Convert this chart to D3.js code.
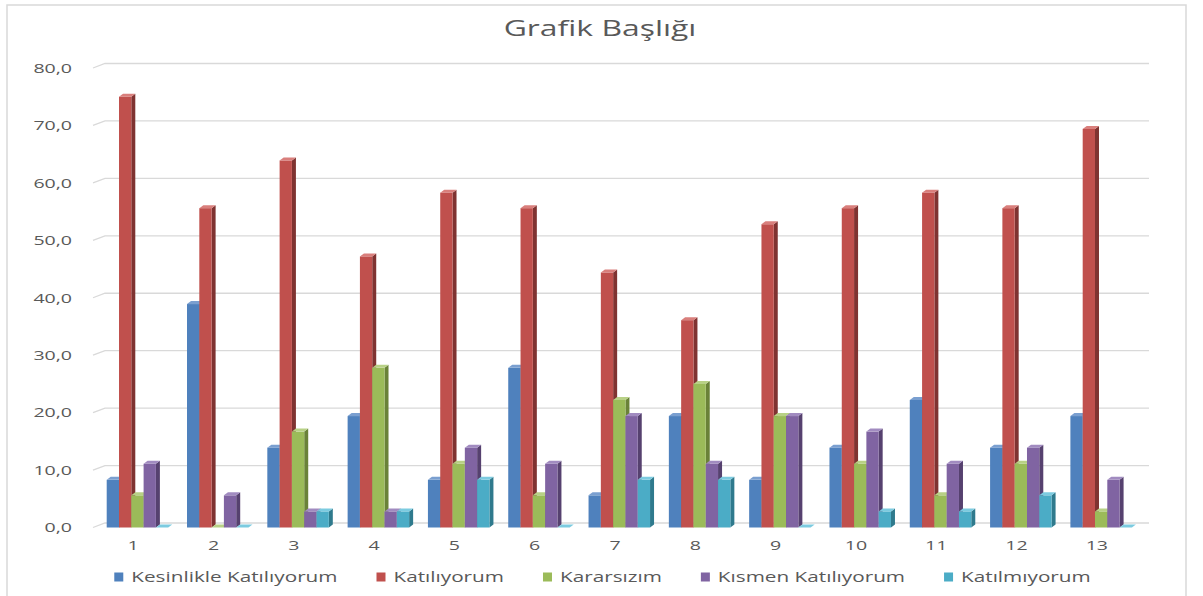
<!DOCTYPE html>
<html><head><meta charset="utf-8">
<script src="https://cdn.jsdelivr.net/npm/d3@7"></script>
<style>
html,body{margin:0;padding:0;background:#fff;}
svg{display:block;font-family:"Open Sans",sans-serif;}
</style></head>
<body>
<svg id="chart" width="1203" height="596"></svg>
<script>
const categories = ["1","2","3","4","5","6","7","8","9","10","11","12","13"];
const seriesNames = ["Kesinlikle Katılıyorum","Katılıyorum","Kararsızım","Kısmen Katılıyorum","Katılmıyorum"];
const kesinlikleKatiliyorum = [8.3,38.9,13.9,19.4,8.3,27.8,5.6,19.4,8.3,13.9,22.2,13.9,19.4];
const katiliyorum = [75.0,55.6,63.9,47.2,58.3,55.6,44.4,36.1,52.8,55.6,58.3,55.6,69.4];
const kararsizim = [5.6,0,16.7,27.8,11.1,5.6,22.2,25.0,19.4,11.1,5.6,11.1,2.8];
const kismenKatiliyorum = [11.1,5.6,2.8,2.8,13.9,11.1,19.4,11.1,19.4,16.7,11.1,13.9,8.3];
const katilmiyorum = [0,0,2.8,2.8,8.3,0,8.3,8.3,0,2.8,2.8,5.6,0];
const yTicks = [0,10,20,30,40,50,60,70,80];
const titleText = "Grafik Başlığı";

const seriesValues = [kesinlikleKatiliyorum, katiliyorum, kararsizim, kismenKatiliyorum, katilmiyorum];
const frontColors = ["#4f81bd","#c0504d","#9bbb59","#8064a2","#4bacc6"];
const sideColors  = ["#355a87","#7f3331","#6a8238","#56416f","#2f7a8d"];
const topColors   = ["#7a9fd0","#d97f7c","#b8d186","#a18bc0","#7ccbe0"];

const SX = 1.45;            // horizontal text stretch seen in the reference
const textColor = "#595959";
const gridColor = "#d9d9d9";
const depthX = 12, depthY = 4.5;   // wall offset
const barDX = 4, barDY = 3;        // bar depth

const svg = d3.select("#chart");

// outer frame
svg.append("rect").attr("x",7).attr("y",5).attr("width",1179).attr("height",600)
  .attr("fill","none").attr("stroke",gridColor).attr("stroke-width",1.5);

const x = d3.scaleBand().domain(categories).range([93,1137]);
const xs = d3.scaleBand().domain(seriesNames).range([13.7,75.2]);
const y = d3.scaleLinear().domain([0,80]).range([527.5,68]);

// gridlines (back wall with diagonal at front-left)
const grid = svg.append("g");
yTicks.forEach(t=>{
  const yy = y(t);
  grid.append("path")
    .attr("d",`M${x.range()[0]},${yy}L${x.range()[0]+depthX},${yy-depthY}L${x.range()[1]+depthX},${yy-depthY}`)
    .attr("fill","none").attr("stroke",gridColor).attr("stroke-width",1.3);
});

// y axis
const fmt = d => d3.format(".1f")(d).replace(".",",");
const yAxis = svg.append("g").attr("transform",`translate(${x.range()[0]},0)`)
  .call(d3.axisLeft(y).tickValues(yTicks).tickFormat(fmt).tickSize(0).tickPadding(21));
yAxis.select(".domain").remove();
yAxis.selectAll("text").attr("fill",textColor).attr("font-size",13.5)
  .attr("font-family","Open Sans")
  .attr("x",-21/SX).attr("transform",`scale(${SX},1)`);

// x axis
const xAxis = svg.append("g").attr("transform",`translate(0,${y(0)})`)
  .call(d3.axisBottom(x).tickSize(0).tickPadding(12.5));
xAxis.select(".domain").remove();
xAxis.selectAll("text").attr("fill",textColor).attr("font-size",13.5)
  .attr("font-family","Open Sans").attr("transform",`scale(${SX},1)`);

// bars
const barsG = svg.append("g");
categories.forEach((c,i)=>{
  seriesNames.forEach((s,j)=>{
    const v = seriesValues[j][i];
    const x0 = x(c) + xs(s), w = xs.bandwidth();
    const yt = y(v), yb = y(0);
    const g = barsG.append("g");
    g.append("path")
      .attr("d",`M${x0+w},${yt}L${x0+w+barDX},${yt-barDY}L${x0+w+barDX},${yb-barDY}L${x0+w},${yb}Z`)
      .attr("fill",sideColors[j]);
    g.append("rect").attr("x",x0).attr("y",yt).attr("width",w).attr("height",yb-yt)
      .attr("fill",frontColors[j]);
    g.append("path")
      .attr("d",`M${x0},${yt}L${x0+barDX},${yt-barDY}L${x0+w+barDX},${yt-barDY}L${x0+w},${yt}Z`)
      .attr("fill",topColors[j]);
  });
});

// title
svg.append("text").attr("transform",`translate(600,36) scale(${SX},1)`)
  .attr("text-anchor","middle").attr("font-size",22).attr("fill",textColor)
  .text(titleText);

// legend
const legend = svg.append("g");
const items = [];
seriesNames.forEach((s,j)=>{
  const g = legend.append("g");
  g.append("rect").attr("x",0).attr("y",-4.5).attr("width",9).attr("height",9).attr("fill",frontColors[j]);
  const t = g.append("text").attr("transform",`translate(17,0) scale(${SX},1)`)
    .attr("dy","0.35em").attr("font-size",14.3).attr("fill",textColor).text(s);
  const w = 17 + t.node().getComputedTextLength()*SX;
  items.push({g,w});
});
const gap = 39;
const total = d3.sum(items,d=>d.w) + gap*(items.length-1);
let cx = 602.5 - total/2;
items.forEach(it=>{ it.g.attr("transform",`translate(${cx},577)`); cx += it.w + gap; });
</script>
</body></html>
